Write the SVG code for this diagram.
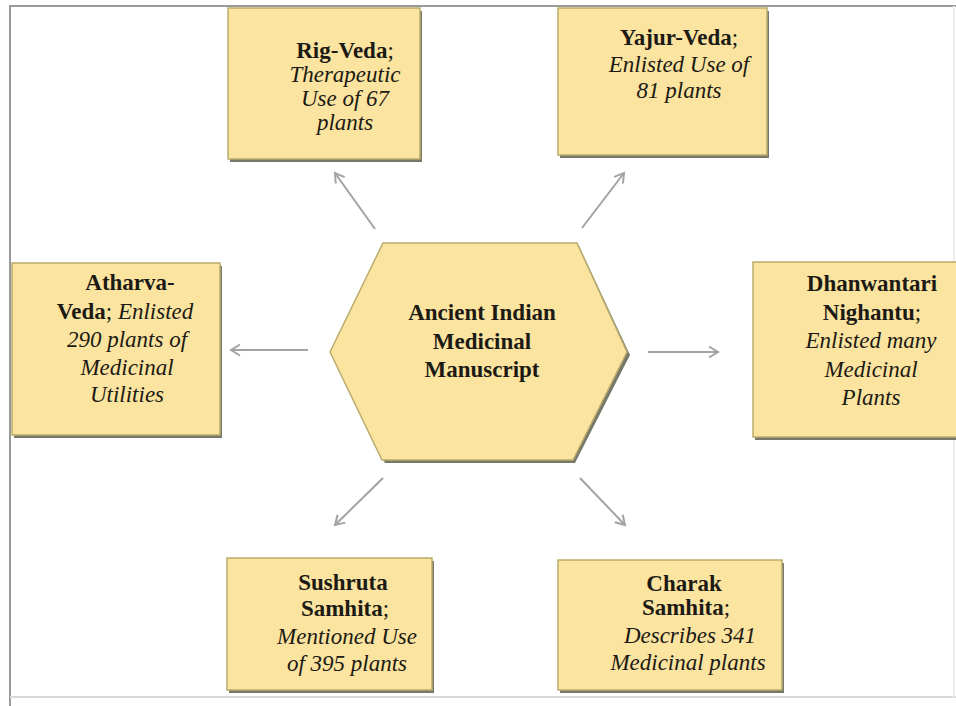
<svg xmlns="http://www.w3.org/2000/svg" width="956" height="706" viewBox="0 0 956 706">
<defs>
<marker id="ah" markerWidth="14" markerHeight="14" refX="11" refY="7" orient="auto" markerUnits="userSpaceOnUse">
<path d="M2,1.5 L11,7 L2,12.5" fill="none" stroke="#a3a3a3" stroke-width="2"/>
</marker>
</defs>
<style>
.box{fill:#fbe3a0;stroke:#b9ad6e;stroke-width:1.5}
.sh{fill:#77776a}
.t{font-family:"Liberation Serif","Times New Roman",serif;font-size:23px;fill:#1c1a14;text-anchor:middle}
.b{font-weight:bold}
.i{font-style:italic}
.c{fill:none;stroke:#a3a3a3;stroke-width:2;marker-end:url(#ah)}
.fr{stroke:#9a9a9a;stroke-width:2;fill:none}
</style>
<rect width="956" height="706" fill="#ffffff"/>
<g id="frame">
<line class="fr" x1="9" y1="6" x2="956" y2="6"/>
<line class="fr" x1="10" y1="5" x2="10" y2="706"/>
<line x1="10" y1="697" x2="956" y2="697" stroke="#d8d8d8" stroke-width="2"/>
<line x1="954" y1="6" x2="954" y2="697" stroke="#eeeeee" stroke-width="2"/>
</g>
<g id="connectors">
<line class="c" x1="375" y1="229" x2="335" y2="173"/>
<line class="c" x1="582" y1="228" x2="624" y2="173"/>
<line class="c" x1="308" y1="350" x2="231" y2="350"/>
<line class="c" x1="648" y1="352" x2="718" y2="352"/>
<line class="c" x1="383" y1="478" x2="335" y2="525"/>
<line class="c" x1="580" y1="478" x2="625" y2="525"/>
</g>
<g id="center">
<polygon points="385,246 579,246 630,355 575,463 385,463 333,355" class="sh"/>
<polygon points="383,243 577,243 627,352 573,460 382,460 330,352" class="box"/>
<text class="t b" x="482" y="320">Ancient Indian</text>
<text class="t b" x="482" y="349">Medicinal</text>
<text class="t b" x="482" y="377">Manuscript</text>
</g>
<g id="rigveda">
<rect x="230" y="11" width="192" height="151" class="sh"/>
<rect x="228" y="8" width="192" height="151" class="box"/>
<text class="t" x="345" y="58"><tspan class="b">Rig-Veda</tspan>;</text>
<text class="t i" x="345" y="82">Therapeutic</text>
<text class="t i" x="345" y="106">Use of 67</text>
<text class="t i" x="345" y="130">plants</text>
</g>
<g id="yajurveda">
<rect x="560" y="11" width="209" height="147" class="sh"/>
<rect x="558" y="8" width="209" height="147" class="box"/>
<text class="t" x="679" y="45"><tspan class="b">Yajur-Veda</tspan>;</text>
<text class="t i" x="679" y="72">Enlisted Use of</text>
<text class="t i" x="679" y="98">81 plants</text>
</g>
<g id="atharvaveda">
<rect x="14" y="266" width="208" height="172" class="sh"/>
<rect x="12" y="263" width="208" height="172" class="box"/>
<text class="t b" x="130" y="290">Atharva-</text>
<text class="t" x="125" y="319"><tspan class="b">Veda</tspan>; <tspan class="i">Enlisted</tspan></text>
<text class="t i" x="127" y="347">290 plants of</text>
<text class="t i" x="127" y="375">Medicinal</text>
<text class="t i" x="127" y="402">Utilities</text>
</g>
<g id="dhanwantari">
<rect x="755" y="265" width="210" height="175" class="sh"/>
<rect x="753" y="262" width="210" height="175" class="box"/>
<text class="t b" x="872" y="291">Dhanwantari</text>
<text class="t" x="872" y="320"><tspan class="b">Nighantu</tspan>;</text>
<text class="t i" x="871" y="348">Enlisted many</text>
<text class="t i" x="871" y="377">Medicinal</text>
<text class="t i" x="871" y="405">Plants</text>
</g>
<g id="sushruta">
<rect x="229" y="561" width="205" height="132" class="sh"/>
<rect x="227" y="558" width="205" height="132" class="box"/>
<text class="t b" x="343" y="590">Sushruta</text>
<text class="t" x="345" y="616"><tspan class="b">Samhita</tspan>;</text>
<text class="t i" x="347" y="644">Mentioned Use</text>
<text class="t i" x="347" y="671">of 395 plants</text>
</g>
<g id="charak">
<rect x="560" y="563" width="224" height="130" class="sh"/>
<rect x="558" y="560" width="224" height="130" class="box"/>
<text class="t b" x="684" y="591">Charak</text>
<text class="t" x="686" y="615"><tspan class="b">Samhita</tspan>;</text>
<text class="t i" x="690" y="643">Describes 341</text>
<text class="t i" x="688" y="670">Medicinal plants</text>
</g>
</svg>
